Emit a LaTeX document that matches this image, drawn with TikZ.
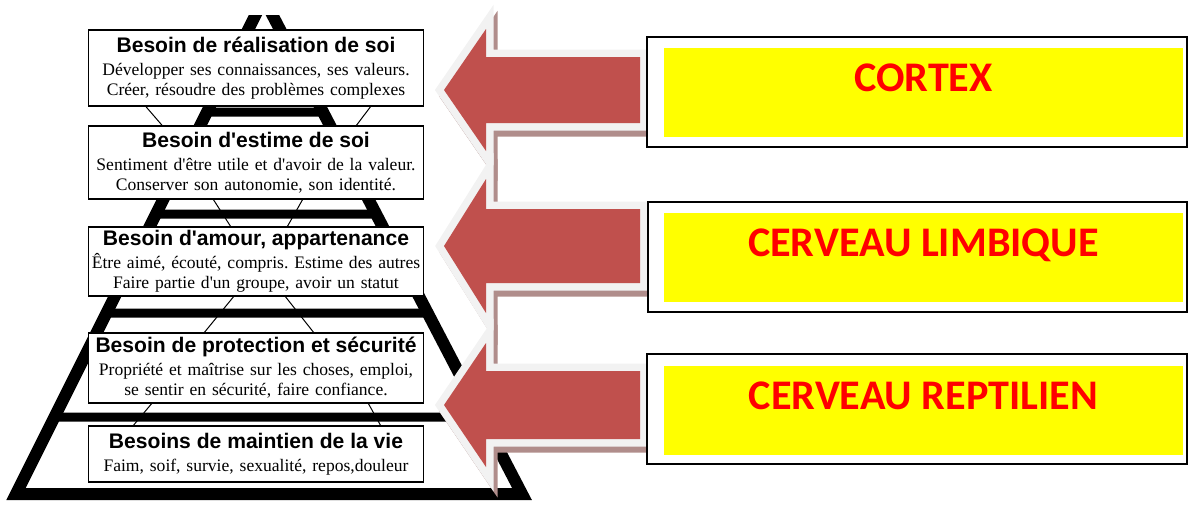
\documentclass[tikz,border=0pt]{standalone}
\usepackage{fontspec}
\setmainfont{Liberation Serif}
\setsansfont{Liberation Sans}
\newfontfamily\brainfont{Carlito}
\definecolor{ArrowRed}{HTML}{C0504D}
\definecolor{RimWhite}{HTML}{F2F2F2}
\definecolor{ShadowBrown}{HTML}{B08D8B}
\definecolor{LabelYellow}{HTML}{FFFF00}
\definecolor{LabelRed}{HTML}{FF0000}
\newcommand{\lvltitle}{\sffamily\bfseries\fontsize{12}{13}\selectfont}
\newcommand{\q}{\textquotesingle}

\begin{document}
\begin{tikzpicture}[x=0.02cm, y=-0.02cm,
    level/.style={draw, fill=white, line width=0.03cm, inner sep=0.5pt,
                  minimum width=6.7cm, text width=6.6cm, align=center,
                  font=\fontsize{10}{11.5}\selectfont\frenchspacing},
    pyrline/.style={line width=0.24cm, line join=miter},
    pyrbar/.style={line width=0.18cm},
    thinlink/.style={line width=0.02cm},
    arrowshade/.style={draw=ShadowBrown, fill=ShadowBrown, line width=0.3cm, line join=miter},
    arrowrim/.style={draw=RimWhite, line width=0.3cm, line join=miter},
    brainframe/.style={draw, fill=white, line width=0.04cm,
                       minimum width=10.8cm, minimum height=2.2cm},
    brainlabel/.style={fill=LabelYellow, text=LabelRed, inner sep=0pt,
                       minimum width=10.38cm, text height=0.87cm, text depth=0.91cm,
                       font=\brainfont\bfseries\fontsize{24}{29}\selectfont}]
  \useasboundingbox (0,0) rectangle (1189,508);

  % pyramid frame
  \coordinate (topL) at (253,20);
  \coordinate (topR) at (275,20);
  \coordinate (baseL) at (16,494);
  \coordinate (baseR) at (522,494);
  \coordinate (apex) at (intersection of baseL--topL and baseR--topR);
  \begin{scope}
    \clip (0,15) rectangle (1189,508);
    \draw[pyrline] (baseL) -- (apex) -- (baseR) -- cycle;
  \end{scope}
  \foreach \yb in {112,214,313,417}
    \draw[pyrbar] (intersection of baseL--apex and 0,\yb--1,\yb)
               -- (intersection of baseR--apex and 0,\yb--1,\yb);

  % levels
  \node[level, minimum height=1.52cm] (lvl1) at (256,68) {{\lvltitle Besoin de réalisation de soi}\\[1.5pt]
    Développer ses connaissances, ses valeurs.\\ Créer, résoudre des problèmes complexes};
  \node[level, minimum height=1.46cm] (lvl2) at (256,162.5) {{\lvltitle Besoin d\q estime de soi}\\[1.5pt]
    Sentiment d\q être utile et d\q avoir de la valeur.\\ Conserver son autonomie, son identité.};
  \node[level, minimum height=1.38cm] (lvl3) at (256,261.5) {{\lvltitle Besoin d\q amour, appartenance}\\[1.5pt]
    Être aimé, écouté, compris. Estime des autres\\ Faire partie d\q un groupe, avoir un statut};
  \node[level, minimum height=1.40cm] (lvl4) at (256,368) {{\lvltitle Besoin de protection et sécurité}\\[1.5pt]
    Propriété et maîtrise sur les choses, emploi,\\ se sentir en sécurité, faire confiance.};
  \node[level, minimum height=1.12cm] (lvl5) at (256,454) {{\lvltitle Besoins de maintien de la vie}\\[1.5pt]
    Faim, soif, survie, sexualité, repos,douleur};

  \foreach \up/\lo/\ua/\la/\ub/\lb in {lvl1/lvl2/-2.2/-1.88/2.29/2.01,
      lvl2/lvl3/-0.85/-0.51/0.93/0.63, lvl3/lvl4/-0.45/-1.03/0.59/1.15,
      lvl4/lvl5/-2.09/-2.45/2.25/2.49} {
    \draw[thinlink] ([xshift=\ua cm]\up.south) -- ([xshift=\la cm]\lo.north);
    \draw[thinlink] ([xshift=\ub cm]\up.south) -- ([xshift=\lb cm]\lo.north);
  }

  % arrows
  \foreach \cy/\sh/\hh in {90/33/61,246/37/67,405/34/62} {
    \draw[arrowshade, shift={(4,6)}] (444,\cy) -- (486,\cy-\hh) -- (486,\cy-\sh) -- (640,\cy-\sh)
      -- (640,\cy+\sh) -- (486,\cy+\sh) -- (486,\cy+\hh) -- cycle;
    \draw[arrowrim] (444,\cy) -- (486,\cy-\hh) -- (486,\cy-\sh) -- (640,\cy-\sh)
      -- (640,\cy+\sh) -- (486,\cy+\sh) -- (486,\cy+\hh) -- cycle;
    \fill[ArrowRed] (444,\cy) -- (486,\cy-\hh) -- (486,\cy-\sh) -- (640,\cy-\sh)
      -- (640,\cy+\sh) -- (486,\cy+\sh) -- (486,\cy+\hh) -- cycle;
  }

  % brain boxes
  \node[brainframe] (cortexframe) at (917,92) {};
  \node[brainlabel] (cortex) at (923.5,92.5) {CORTEX};
  \node[brainframe] (limbicframe) at (917.5,257) {};
  \node[brainlabel] (limbic) at (923.5,257.5) {CERVEAU LIMBIQUE};
  \node[brainframe] (reptframe) at (917,408.5) {};
  \node[brainlabel] (reptile) at (923.5,410) {CERVEAU REPTILIEN};
\end{tikzpicture}
\end{document}
